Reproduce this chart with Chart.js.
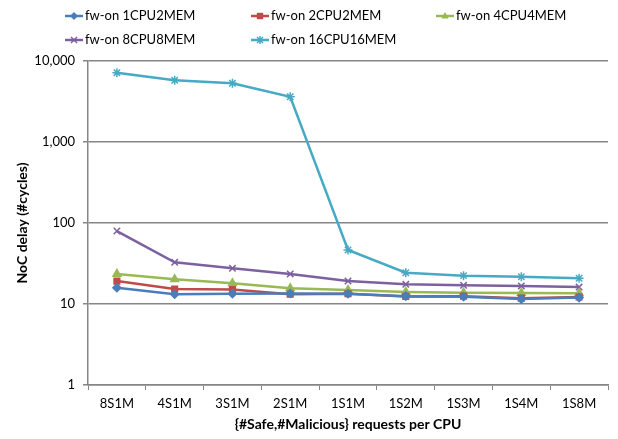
<!DOCTYPE html>
<html>
<head>
<meta charset="utf-8">
<script src="https://cdn.jsdelivr.net/npm/chart.js@4/dist/chart.umd.min.js"></script>
<style>
  html, body { margin: 0; padding: 0; background: #ffffff; }
  #wrap { width: 618px; height: 439px; position: relative; }
</style>
</head>
<body>
<div id="wrap"><canvas id="c" width="618" height="439"></canvas></div>
<script>
// Request mixes along the x axis
const categories = ['8S1M', '4S1M', '3S1M', '2S1M', '1S1M', '1S2M', '1S3M', '1S4M', '1S8M'];

// NoC delay in cycles for each firewall-on configuration
const cpu1mem2 = [15.9, 13.2, 13.4, 13.5, 13.4, 12.5, 12.3, 11.5, 12.0];
const cpu2mem2 = [19.2, 15.3, 15.1, 13.2, 13.4, 12.4, 12.5, 11.8, 12.2];
const cpu4mem4 = [23.5, 20.2, 18.0, 15.6, 14.9, 14.1, 13.8, 13.7, 13.6];
const cpu8mem8 = [79.6, 32.7, 27.6, 23.5, 19.2, 17.5, 17.0, 16.7, 16.2];
const cpu16mem16 = [7170, 5780, 5310, 3620, 46.4, 24.3, 22.4, 21.7, 20.8];

const seriesNames = ['fw-on 1CPU2MEM', 'fw-on 2CPU2MEM', 'fw-on 4CPU4MEM', 'fw-on 8CPU8MEM', 'fw-on 16CPU16MEM'];
const yTickValues = [1, 10, 100, 1000, 10000];

const FONT = 'Lato, "Open Sans", sans-serif';
const AXIS_GREY = '#868686';

function series(label, data, color, style, radius) {
  return {
    label, data,
    borderColor: color,
    backgroundColor: color,
    pointBackgroundColor: color,
    pointBorderColor: color,
    pointStyle: style,
    pointRadius: radius,
    pointHoverRadius: radius,
    pointBorderWidth: 1.5,
    borderWidth: 2.5,
    tension: 0,
    fill: false
  };
}

const datasets = [
  series(seriesNames[0], cpu1mem2, '#4A7EBB', 'rectRot', 4),
  series(seriesNames[1], cpu2mem2, '#BE4B48', 'rect', 4),
  series(seriesNames[2], cpu4mem4, '#98B954', 'triangle', 4.5),
  series(seriesNames[3], cpu8mem8, '#7D60A0', 'crossRot', 4.5),
  series(seriesNames[4], cpu16mem16, '#46AAC5', 'star', 4.5)
];

// Small marker painter for the legend swatches
function drawMarker(ctx, style, x, y, r, color) {
  ctx.save();
  ctx.fillStyle = color;
  ctx.strokeStyle = color;
  ctx.lineWidth = 1.5;
  ctx.beginPath();
  switch (style) {
    case 'rectRot':
      ctx.moveTo(x, y - r); ctx.lineTo(x + r, y); ctx.lineTo(x, y + r); ctx.lineTo(x - r, y); ctx.closePath(); ctx.fill();
      break;
    case 'rect':
      ctx.rect(x - r * 0.8, y - r * 0.8, r * 1.6, r * 1.6); ctx.fill();
      break;
    case 'triangle':
      ctx.moveTo(x, y - r); ctx.lineTo(x + r * 0.9, y + r * 0.6); ctx.lineTo(x - r * 0.9, y + r * 0.6); ctx.closePath(); ctx.fill();
      break;
    case 'crossRot': {
      const d = r * 0.75;
      ctx.moveTo(x - d, y - d); ctx.lineTo(x + d, y + d); ctx.moveTo(x + d, y - d); ctx.lineTo(x - d, y + d); ctx.stroke();
      break;
    }
    case 'star': {
      const d = r * 0.75;
      ctx.moveTo(x - d, y - d); ctx.lineTo(x + d, y + d); ctx.moveTo(x + d, y - d); ctx.lineTo(x - d, y + d);
      ctx.moveTo(x, y - r); ctx.lineTo(x, y + r); ctx.moveTo(x - r, y); ctx.lineTo(x + r, y); ctx.stroke();
      break;
    }
  }
  ctx.restore();
}

// Legend laid out in a three-column grid above the plot
const gridLegend = {
  id: 'gridLegend',
  afterDraw(chart) {
    const ctx = chart.ctx;
    const cols = [74, 260, 445];
    const rows = [16, 40];
    ctx.save();
    ctx.font = '13px ' + FONT;
    ctx.textBaseline = 'middle';
    ctx.textAlign = 'left';
    chart.data.datasets.forEach((ds, i) => {
      const cx = cols[i % 3];
      const cy = rows[Math.floor(i / 3)];
      ctx.strokeStyle = ds.borderColor;
      ctx.lineWidth = 2.5;
      ctx.beginPath();
      ctx.moveTo(cx - 9, cy);
      ctx.lineTo(cx + 9, cy);
      ctx.stroke();
      drawMarker(ctx, ds.pointStyle, cx, cy, 4, ds.borderColor);
      ctx.fillStyle = '#000000';
      ctx.fillText(ds.label, cx + 11, cy);
    });
    ctx.restore();
  }
};

new Chart(document.getElementById('c'), {
  type: 'line',
  data: { labels: categories, datasets },
  plugins: [gridLegend],
  options: {
    responsive: false,
    animation: false,
    events: [],
    layout: { padding: { top: 61, right: 10, bottom: 6, left: 14 } },
    plugins: {
      legend: { display: false },
      tooltip: { enabled: false }
    },
    scales: {
      x: {
        type: 'category',
        offset: true,
        afterFit(scale) { scale.height = 48; },
        grid: {
          display: true,
          offset: true,
          drawOnChartArea: false,
          drawTicks: true,
          tickLength: 5,
          color: AXIS_GREY,
          lineWidth: 1
        },
        border: { display: true, color: AXIS_GREY, width: 1.5 },
        ticks: {
          color: '#000000',
          font: { family: FONT, size: 13 },
          padding: 6,
          maxRotation: 0,
          autoSkip: false
        },
        title: {
          display: true,
          text: '{#Safe,#Malicious} requests per CPU',
          color: '#000000',
          font: { family: FONT, size: 14, weight: 'bold' },
          padding: 0
        }
      },
      y: {
        type: 'logarithmic',
        min: 1,
        max: 10000,
        afterFit(scale) { scale.width = 74; },
        afterBuildTicks(scale) {
          scale.ticks = yTickValues.map(v => ({ value: v, major: true }));
        },
        grid: {
          display: true,
          drawTicks: true,
          tickLength: 5,
          color: AXIS_GREY,
          lineWidth: 1.5
        },
        border: { display: true, color: AXIS_GREY, width: 1.5 },
        ticks: {
          color: '#000000',
          font: { family: FONT, size: 13 },
          padding: 8,
          callback: v => Number(v).toLocaleString('en-US')
        },
        title: {
          display: true,
          text: 'NoC delay (#cycles)',
          color: '#000000',
          font: { family: FONT, size: 14, weight: 'bold' },
          padding: 0
        }
      }
    }
  }
});
</script>
</body>
</html>
